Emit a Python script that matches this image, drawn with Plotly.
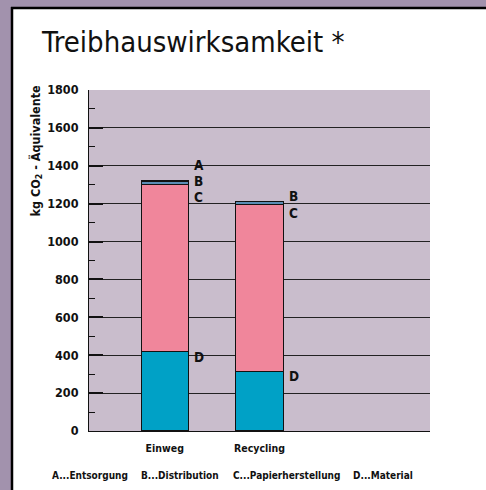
import plotly.graph_objects as go


# ---------------------------
# DATA
# ---------------------------

categories = ["Einweg", "Recycling"]

segment_keys = ["D", "C", "B", "A"]
segment_names = ["Material", "Papierherstellung", "Distribution", "Entsorgung"]

material = [420, 315]
papierherstellung = [880, 880]
distribution = [15, 15]
entsorgung = [5, 0]

y_ticks = [0, 200, 400, 600, 800, 1000, 1200, 1400, 1600, 1800]


# ---------------------------
# LAYOUT HELPERS
# ---------------------------

W, H = 486, 490
ML, MR, MT, MB = 89, 56, 90, 59
PW = W - ML - MR
PH = H - MT - MB

FONT = "DejaVu Sans Condensed, Liberation Sans Narrow, sans-serif"
INK = "#111111"


def px_x(p):
    return (p - ML) / PW


def px_y(p):
    return (H - MB - p) / PH


colors = {
    "D": "#00a1c6",
    "C": "#f0869b",
    "B": "#5a8db4",
    "A": "#111111",
}

series = [material, papierherstellung, distribution, entsorgung]

fig = go.Figure()

for key, name, vals in zip(segment_keys, segment_names, series):
    fig.add_trace(
        go.Bar(
            x=categories,
            y=vals,
            name=name,
            width=0.5,
            marker=dict(
                color=colors[key],
                line=dict(color=INK, width=1.2)
            ),
            showlegend=False
        )
    )

# segment letters next to the bars
label_specs = [
    # (category index, key, yshift)
    (0, "A", 16),
    (0, "B", 1),
    (0, "C", -12),
    (0, "D", -6),
    (1, "B", 6),
    (1, "C", -8),
    (1, "D", -5),
]

for ci, key, ys in label_specs:
    idx = segment_keys.index(key)
    top = sum(s[ci] for s in series[:idx + 1])
    fig.add_annotation(
        x=categories[ci],
        y=top,
        text=key,
        showarrow=False,
        xanchor="left",
        yanchor="middle",
        xshift=27,
        yshift=ys,
        font=dict(family=FONT, size=13.5, color=INK, weight="bold")
    )

# y axis title
fig.add_annotation(
    x=px_x(35.5),
    y=px_y(151),
    xref="paper",
    yref="paper",
    text="kg CO<sub>2</sub> - Äquivalente",
    textangle=-90,
    showarrow=False,
    xanchor="center",
    yanchor="middle",
    font=dict(family=FONT, size=12.5, color=INK, weight="bold")
)

# key line at the bottom
key_x = [50, 139, 231, 351]
for k, x in zip(["A", "B", "C", "D"], key_x):
    name = segment_names[segment_keys.index(k)]
    fig.add_annotation(
        x=px_x(x),
        y=px_y(476),
        xref="paper",
        yref="paper",
        text="%s...%s" % (k, name),
        showarrow=False,
        xanchor="left",
        yanchor="middle",
        font=dict(family=FONT, size=10, color=INK, weight="bold")
    )

# purple frame with black inner edge
purple = "#a292ad"
fig.add_shape(type="rect", xref="paper", yref="paper",
              x0=px_x(-20), x1=px_x(11), y0=px_y(520), y1=px_y(-20),
              fillcolor=purple, line=dict(width=0))
fig.add_shape(type="rect", xref="paper", yref="paper",
              x0=px_x(-20), x1=px_x(520), y0=px_y(7), y1=px_y(-20),
              fillcolor=purple, line=dict(width=0))
fig.add_shape(type="line", xref="paper", yref="paper",
              x0=px_x(12), x1=px_x(12), y0=px_y(7), y1=px_y(520),
              line=dict(color="#000000", width=2.5))
fig.add_shape(type="line", xref="paper", yref="paper",
              x0=px_x(11), x1=px_x(520), y0=px_y(8), y1=px_y(8),
              line=dict(color="#000000", width=2.5))

fig.update_layout(
    width=W,
    height=H,
    barmode="stack",
    paper_bgcolor="white",
    plot_bgcolor="#c9bdcc",
    margin=dict(l=ML, r=MR, t=MT, b=MB),
    title=dict(
        text="Treibhauswirksamkeit *",
        x=42 / W,
        xanchor="left",
        y=1 - 42 / H,
        yanchor="middle",
        font=dict(family=FONT, size=29, color=INK)
    ),
    xaxis=dict(
        type="category",
        range=[-0.8, 2.8],
        showgrid=False,
        showline=True,
        linecolor=INK,
        linewidth=1,
        ticks="",
        ticklabelstandoff=7,
        tickfont=dict(family=FONT, size=10.5, color=INK, weight="bold"),
        fixedrange=True
    ),
    yaxis=dict(
        range=[0, 1800],
        tickvals=y_ticks,
        showgrid=True,
        gridcolor="#222222",
        gridwidth=1,
        showline=True,
        linecolor=INK,
        linewidth=1,
        zeroline=False,
        ticks="inside",
        ticklen=14,
        tickwidth=2,
        tickcolor=INK,
        ticklabelstandoff=7,
        tickfont=dict(family=FONT, size=12.5, color=INK, weight="bold"),
        minor=dict(dtick=100, ticks="inside", ticklen=6, tickcolor=INK,
                   tickwidth=1, showgrid=False),
        fixedrange=True
    ),
)

fig.write_html(
    "out.html",
    config={"displayModeBar": False},
    post_script="document.body.style.margin='0px';"
)
